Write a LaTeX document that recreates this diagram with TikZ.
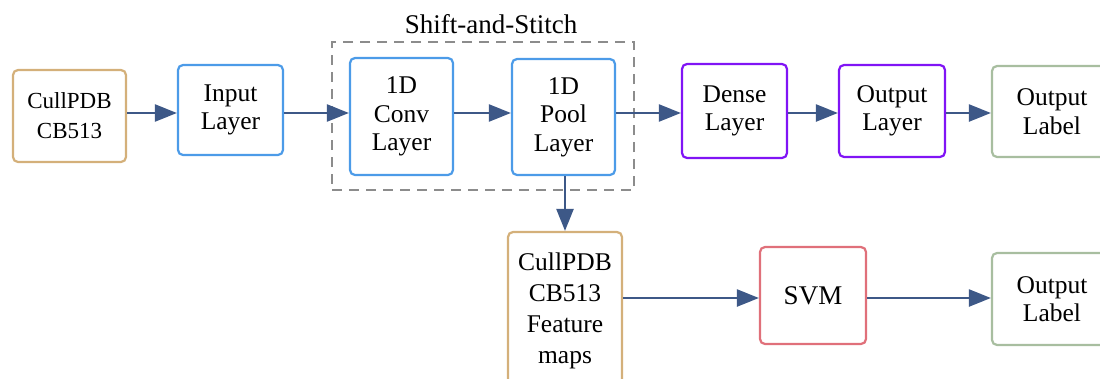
\documentclass[tikz,border=0pt]{standalone}
\usepackage{fontspec}
\setmainfont{Liberation Serif}
\usetikzlibrary{arrows.meta}
\definecolor{tanc}{RGB}{212,176,122}
\definecolor{bluec}{RGB}{76,155,232}
\definecolor{purplec}{RGB}{128,20,245}
\definecolor{greenc}{RGB}{168,190,160}
\definecolor{redc}{RGB}{224,112,122}
\definecolor{arrowc}{RGB}{61,88,135}
\definecolor{dashc}{RGB}{140,140,140}
\begin{document}
\begin{tikzpicture}[x=1pt,y=-1pt,
  box/.style={draw, line width=2.2pt, rounded corners=5pt, align=center, inner sep=0pt, fill=white,
    font=\fontsize{25.5}{28.5}\selectfont},
  conn/.style={draw=arrowc, line width=2.4pt, -{Triangle[length=22pt,width=17pt]}},
  stitchbox/.style={draw=dashc, line width=2pt, dash pattern=on 10pt off 7pt, inner sep=0pt},
]
\useasboundingbox (0,0) rectangle (1100,378);
\clip (0,0) rectangle (1100,378);

\node[stitchbox, minimum width=302pt, minimum height=148pt] (stitch) at (483,116) {};
\node[font=\fontsize{27}{30}\selectfont] (stitchlabel) at (491,24) {Shift-and-Stitch};

\node[box, draw=tanc, minimum width=113pt, minimum height=92pt, font=\fontsize{23}{30}\selectfont] (cull) at (69.5,116) {CullPDB\\CB513};
\node[box, draw=bluec, minimum width=105pt, minimum height=90pt] (input) at (230.5,110) {Input\\Layer};
\node[box, draw=bluec, minimum width=103pt, minimum height=117pt] (conv) at (401.5,116.5) {1D\\Conv\\Layer};
\node[box, draw=bluec, minimum width=103pt, minimum height=116pt] (pool) at (563.5,117) {1D\\Pool\\Layer};
\node[box, draw=purplec, minimum width=105pt, minimum height=94pt] (dense) at (734.5,111) {Dense\\Layer};
\node[box, draw=purplec, minimum width=106pt, minimum height=92pt] (outl) at (892,111) {Output\\Layer};
\node[box, draw=greenc, minimum width=120pt, minimum height=91pt] (lab1) at (1052,111.5) {Output\\Label};

\node[box, draw=tanc, minimum width=114pt, minimum height=158pt, font=\fontsize{25.5}{31}\selectfont] (feat) at (565,311) {CullPDB\\CB513\\Feature\\maps};
\node[box, draw=redc, minimum width=106pt, minimum height=97pt, font=\fontsize{27}{30}\selectfont] (svm) at (813,295.5) {SVM};
\node[box, draw=greenc, minimum width=120pt, minimum height=92pt] (lab2) at (1052,299) {Output\\Label};

\draw[conn] (cull.east |- 0,113) -- (input.west |- 0,113);
\draw[conn] (input.east |- 0,113) -- (conv.west |- 0,113);
\draw[conn] (conv.east |- 0,113) -- (pool.west |- 0,113);
\draw[conn] (pool.east |- 0,113) -- (dense.west |- 0,113);
\draw[conn] (dense.east |- 0,113) -- (outl.west |- 0,113);
\draw[conn] (outl.east |- 0,113) -- (lab1.west |- 0,113);
\draw[conn] (pool.south -| 565,0) -- (feat.north);
\draw[conn] (feat.east |- 0,298) -- (svm.west |- 0,298);
\draw[conn] (svm.east |- 0,298) -- (lab2.west |- 0,298);
\end{tikzpicture}
\end{document}
